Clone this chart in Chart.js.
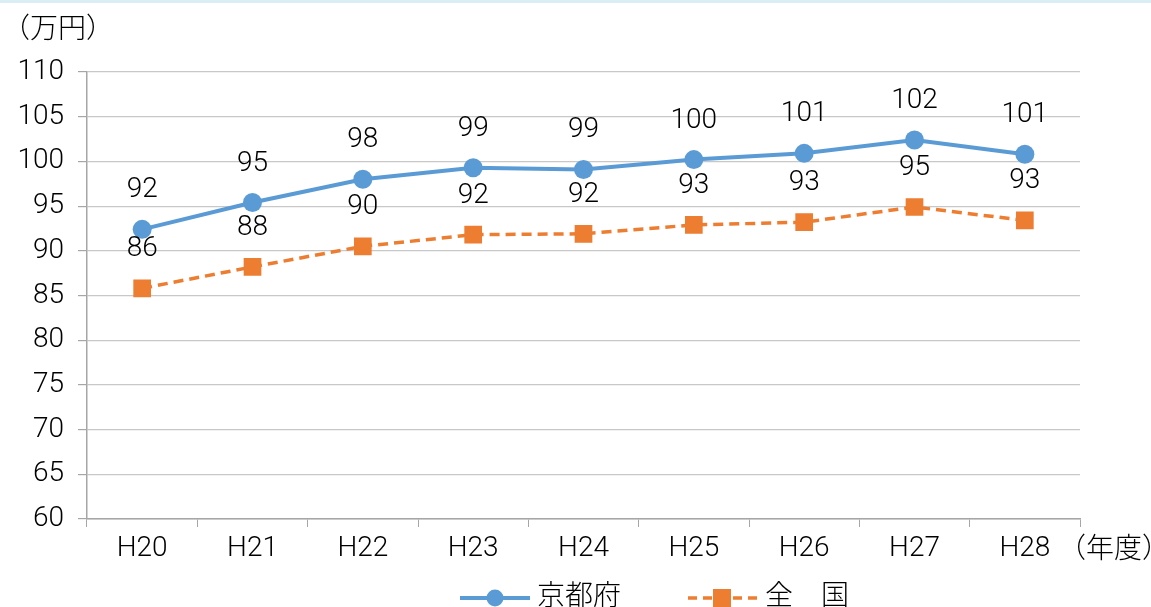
<!DOCTYPE html>
<html>
<head>
<meta charset="utf-8">
<script src="https://cdn.jsdelivr.net/npm/chart.js@4"></script>
<style>
  html, body { margin: 0; padding: 0; background: #fff; }
  #wrap { position: relative; width: 1151px; height: 607px; overflow: hidden; }
  #band { position: absolute; left: 0; top: 0; width: 1151px; height: 3px; background: #daeef3; }
  canvas { position: absolute; left: 0; top: 0; }
</style>
</head>
<body>
<div id="wrap">
  <canvas id="c" width="1151" height="607"></canvas>
  <div id="band"></div>
</div>
<script>
// 年度
const nendo = ['H20', 'H21', 'H22', 'H23', 'H24', 'H25', 'H26', 'H27', 'H28']
// 京都府（万円）
const kyoto = [92.4, 95.4, 98.0, 99.3, 99.1, 100.2, 100.9, 102.4, 100.8]
const kyotoLabel = ['92', '95', '98', '99', '99', '100', '101', '102', '101']
// 全国（万円）
const zenkoku = [85.8, 88.2, 90.5, 91.8, 91.9, 92.9, 93.2, 94.9, 93.4]
const zenkokuLabel = ['86', '88', '90', '92', '92', '93', '93', '95', '93']

const FAMILY = "Roboto, 'Noto Sans CJK JP', sans-serif"
const FONT = "300 28px " + FAMILY
const BLUE = '#5b9bd5'
const ORANGE = '#ed7d31'

// ラベルとか凡例を描く
const extras = {
  id: 'extras',
  afterDatasetsDraw(chart) {
    const ctx = chart.ctx
    const labels = [kyotoLabel, zenkokuLabel]
    ctx.save()
    ctx.font = FONT
    ctx.fillStyle = '#000'
    ctx.textAlign = 'center'
    ctx.textBaseline = 'middle'
    chart.data.datasets.forEach(function (ds, i) {
      const meta = chart.getDatasetMeta(i)
      meta.data.forEach(function (pt, j) {
        ctx.fillText(labels[i][j], pt.x, pt.y - 39)
      })
    })
    ctx.restore()
  },
  afterDraw(chart) {
    const ctx = chart.ctx
    ctx.save()
    ctx.font = FONT
    ctx.fillStyle = '#000'
    ctx.textBaseline = 'middle'
    ctx.textAlign = 'left'
    ctx.fillText('（万円）', 2, 31)
    ctx.fillText('（年度）', 1058, 551)

    // 凡例
    const ly = 598
    ctx.strokeStyle = BLUE
    ctx.lineWidth = 4
    ctx.beginPath()
    ctx.moveTo(460, ly); ctx.lineTo(530, ly)
    ctx.stroke()
    ctx.fillStyle = BLUE
    ctx.beginPath()
    ctx.arc(495, ly, 8.5, 0, Math.PI * 2)
    ctx.fill()
    ctx.fillStyle = '#000'
    ctx.fillText('京都府', 537, ly)

    ctx.strokeStyle = ORANGE
    ctx.lineWidth = 3.5
    ctx.setLineDash([9, 6])
    ctx.beginPath()
    ctx.moveTo(688, ly); ctx.lineTo(757, ly)
    ctx.stroke()
    ctx.setLineDash([])
    ctx.fillStyle = ORANGE
    ctx.fillRect(713, ly - 9, 18, 18)
    ctx.fillStyle = '#000'
    ctx.fillText('全　国', 765, ly)
    ctx.restore()
  }
}

new Chart(document.getElementById('c'), {
  type: 'line',
  data: {
    labels: nendo,
    datasets: [
      {
        label: '京都府',
        data: kyoto,
        borderColor: BLUE,
        backgroundColor: BLUE,
        borderWidth: 4,
        pointStyle: 'circle',
        pointRadius: 9.5,
        pointBorderWidth: 0,
        tension: 0
      },
      {
        label: '全　国',
        data: zenkoku,
        borderColor: ORANGE,
        backgroundColor: ORANGE,
        borderWidth: 3.5,
        borderDash: [10, 6],
        pointStyle: 'rect',
        pointRadius: 12.5,
        pointBorderWidth: 0,
        tension: 0
      }
    ]
  },
  options: {
    responsive: false,
    animation: false,
    layout: { padding: { left: 0, top: 72, right: 71, bottom: 0 } },
    plugins: { legend: { display: false }, tooltip: { enabled: false } },
    scales: {
      x: {
        offset: true,
        grid: { display: true, drawOnChartArea: false, offset: true, color: '#a6a6a6', tickLength: 8 },
        border: { color: '#a6a6a6', width: 1.5 },
        ticks: { color: '#000', font: { family: FAMILY, size: 28, weight: 300 }, padding: 5, maxRotation: 0 },
        afterFit(s) { s.height = 88 }
      },
      y: {
        min: 60,
        max: 110,
        ticks: { stepSize: 5, color: '#000', font: { family: FAMILY, size: 28, weight: 300 }, padding: 14 },
        grid: { color: '#c8c8c8', lineWidth: 1.2, tickLength: 9, tickColor: '#a6a6a6' },
        border: { color: '#a6a6a6', width: 1.5 },
        afterFit(s) { s.width = 87 }
      }
    }
  },
  plugins: [extras]
})
</script>
</body>
</html>
